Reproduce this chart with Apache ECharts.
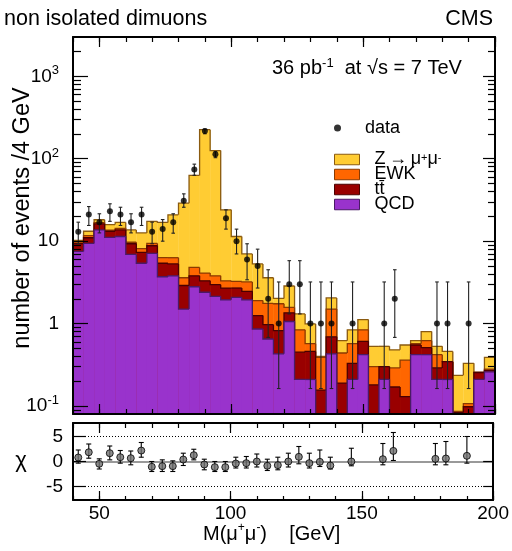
<!DOCTYPE html>
<html><head><meta charset="utf-8">
<script src="https://cdn.jsdelivr.net/npm/echarts@6/dist/echarts.min.js"></script>
<style>html,body{margin:0;padding:0;background:#fff}#c{width:512px;height:551px}</style>
</head><body><div id="c"></div>
<script>
// ---------------- data ----------------
const binLow = [40,44,48,52,56,60,64,68,72,76,80,84,88,92,96,100,104,108,112,116,
                120,124,128,132,136,140,144,148,152,156,160,164,168,172,176,180,184,188,192,196];
const binWidth = 4;
const qcd   = [7.5,9.4,13.7,11.1,11.4,6.9,5.4,7.1,3.7,3.8,1.5,2.8,2.4,2.14,1.94,2.08,1.94,0.86,0.65,0.43,
               1.06,0.21,0.21,0,0.43,0,0.21,0.42,0,0.21,0,0,0.42,0.42,0.21,0.21,0,0,0.21,0.26];
const ttbar = [1.85,1.6,2.5,2.1,2.3,2.4,1.9,1.7,1.7,1.5,1.4,1.0,0.9,0.83,0.76,0.62,0.52,0.39,0.32,0.39,
               0.29,0.24,0.25,0.156,0.26,0.19,0.12,0.19,0.18,0.09,0.17,0.13,0.13,0.09,0.08,0.135,0.083,0.098,0.045,0.01];
const ewk   = [0.45,0.7,0.6,0.4,0.6,0.4,0.8,0.6,0.9,1.0,0.7,1.0,0.8,0.83,0.6,0.55,0.74,0.65,0.79,0.92,
               0.22,0.39,0.11,0.234,0.81,0.25,0.24,0.23,0.12,0,0.12,0.23,0.02,0.11,0.13,0,0.003,0.009,0,0.01];
const zmumu = [0.4,1.5,1.4,2.3,2.6,4.0,4.5,8.0,10.6,14.6,25.3,58,221,122,20.7,8.15,3.8,3.4,1.84,0.28,
               1.29,0.47,0.42,0.01,0.55,0.18,0.27,0.28,0.23,0.23,0.19,0.19,0.05,0.18,0.11,0.115,0.15,0.223,0,0.11];
const dataCounts = [13,21,17,23,21,17,21,13,14,17,31,74,217,113,19,10,6,5,2,1,
                    3,3,1,1,1,0,1,0,0,1,2,0,0,0,1,1,0,1,0,0];
const dataErrLo = [9.3,15.5,12.6,17.4,15.5,12.6,15.5,9.3,10,12.5,25.8,63,201,103,14,7,3.4,2.7,0.68,0.163,
                   1.31,1.31,0.163,0.163,0.163,null,0.163,null,null,0.163,0.68,null,null,null,0.163,0.163,null,0.163,null,null];
const dataErrHi = [17,26.3,21.5,28.4,25.8,21.5,25.8,17,18.3,21.5,37.5,86,229,122,24,14,9.3,8,4.5,3.2,
                   5.8,5.8,3.2,3.2,3.2,null,3.2,null,null,3.2,4.5,null,null,null,3.2,3.2,null,3.2,null,null];
const chiValues = [0.8,1.85,-0.46,1.66,0.86,0.66,2.19,-1.06,-0.93,-0.93,0.4,1.26,-0.6,-1.13,-1.13,-0.4,-0.33,0,-0.86,-0.73,
                   0,0.93,-0.33,-0.07,-0.8,null,0,null,null,0.46,2.12,null,null,null,0.53,0.6,null,1.13,null,null];
const chiErrHi = [2.3,3.5,0.53,3.1,2.2,2.1,3.8,0,0.33,0.13,1.66,2.45,0.46,0,0,0.86,1,1.5,0.46,0.86,
                  1.66,3,1.66,2.3,0.86,null,2.65,null,null,3.6,5.8,null,null,null,3.6,4,null,5,null,null];
const chiErrLo = [-0.33,0.66,-1.5,0.33,-0.33,-0.66,0.86,-2,-2,-2,-0.8,0.33,-1.66,-2,-2,-1.3,-1.3,-1.1,-1.8,-1.66,
                  -1.1,-0.46,-1.3,-1,-1.5,null,-0.86,null,null,-0.66,0.2,null,null,null,-0.66,-0.66,null,-0.33,null,null];
const xTickLabels = [50,100,150,200];
const yTickLabels = [0.1,1,10,100,1000];
const yMinorTicks = [0.09,0.2,0.3,0.4,0.5,0.6,0.7,0.8,0.9,2,3,4,5,6,7,8,9,20,30,40,50,60,70,80,90,
                     200,300,400,500,600,700,800,900,2000];
const chiTicks = [-5,0,5];

// ---------------- chart ----------------
const FONT = 'Liberation Sans, Arial, Helvetica, sans-serif';
const YMIN = 0.08, YMAX = 3000, XMIN = 40, XMAX = 200;
const cumQ = qcd.map(v => v);
const cumT = cumQ.map((v, i) => v + ttbar[i]);
const cumE = cumT.map((v, i) => v + ewk[i]);
const cumZ = cumE.map((v, i) => v + zmumu[i]);

function layer(name, cum, fill, stroke, z) {
  return {
    type: 'custom', name, xAxisIndex: 0, yAxisIndex: 0, clip: true, z,
    itemStyle: { color: fill, borderColor: stroke, borderWidth: 1 },
    data: binLow.map((x0, i) => [x0, x0 + binWidth, Math.max(cum[i], YMIN / 4), i > 0 ? Math.max(cum[i - 1], YMIN / 4) : YMIN / 4]),
    renderItem(params, api) {
      const x0 = api.value(0), x1 = api.value(1), top = api.value(2), prev = api.value(3);
      const p0 = api.coord([x0, top]), p1 = api.coord([x1, top]);
      const b = api.coord([x0, YMIN / 4]), pp = api.coord([x0, prev]);
      const last = params.dataIndex === binLow.length - 1;
      const pts = [[pp[0], pp[1]], [p0[0], p0[1]], [p1[0], p1[1]]];
      if (last) pts.push([p1[0], b[1]]);
      return { type: 'group', children: [
        { type: 'rect', shape: { x: p0[0], y: p0[1], width: p1[0] - p0[0] + 0.3, height: b[1] - p0[1] }, style: { fill } },
        { type: 'polyline', shape: { points: pts }, style: { stroke, lineWidth: 1.3, fill: null } }
      ]};
    }
  };
}

function errBars(xi, yi, lo, hi, cap, color) {
  const d = [];
  binLow.forEach((x0, i) => { if (lo[i] !== null && hi[i] !== null) d.push([x0 + binWidth / 2, lo[i], hi[i]]); });
  return {
    type: 'custom', xAxisIndex: xi, yAxisIndex: yi, clip: true, z: 10, silent: true,
    data: d,
    renderItem(params, api) {
      const x = api.value(0);
      const pl = api.coord([x, api.value(1)]), ph = api.coord([x, api.value(2)]);
      const st = { stroke: color, lineWidth: 1.1 };
      return { type: 'group', children: [
        { type: 'line', shape: { x1: pl[0], y1: pl[1], x2: ph[0], y2: ph[1] }, style: st },
        { type: 'line', shape: { x1: pl[0] - cap, y1: pl[1], x2: pl[0] + cap, y2: pl[1] }, style: st },
        { type: 'line', shape: { x1: ph[0] - cap, y1: ph[1], x2: ph[0] + cap, y2: ph[1] }, style: st }
      ]};
    }
  };
}

function xAx(grid, pos, opts) {
  return Object.assign({
    type: 'value', gridIndex: grid, position: pos, min: XMIN, max: XMAX, interval: 10, z: 20,
    axisLine: { show: false, onZero: false }, splitLine: { show: false },
    axisLabel: { show: false }, axisTick: { show: true, inside: true, length: 5, lineStyle: { color: '#000', width: 1.2 } }
  }, opts);
}
function yLog(pos, opts) {
  return Object.assign({
    type: 'log', gridIndex: 0, position: pos, min: YMIN, max: YMAX, logBase: 10, z: 20,
    axisLine: { show: false, onZero: false }, splitLine: { show: false }, axisLabel: { show: false }
  }, opts);
}

const option = {
  animation: false,
  backgroundColor: '#fff',
  textStyle: { fontFamily: FONT },
  grid: [
    { left: 73, top: 37, width: 422, height: 377, show: false },
    { left: 73, top: 423, width: 422, height: 77, show: false }
  ],
  xAxis: [
    xAx(0, 'bottom', { axisLine: { show: true, onZero: false, lineStyle: { color: '#000', width: 2 } } }),
    xAx(0, 'bottom', { axisTick: { show: true, inside: true, length: 10, customValues: xTickLabels, lineStyle: { color: '#000', width: 1.2 } } }),
    xAx(0, 'top', { axisLine: { show: true, onZero: false, lineStyle: { color: '#000', width: 2 } } }),
    xAx(0, 'top', { axisTick: { show: true, inside: true, length: 10, customValues: xTickLabels, lineStyle: { color: '#000', width: 1.2 } } }),
    xAx(1, 'bottom', { axisLine: { show: true, onZero: false, lineStyle: { color: '#000', width: 2 } },
                       axisTick: { show: true, inside: true, length: 4, lineStyle: { color: '#000', width: 1.2 } } }),
    xAx(1, 'bottom', { axisTick: { show: true, inside: true, length: 9, customValues: xTickLabels, lineStyle: { color: '#000', width: 1.2 } },
                       axisLabel: { show: true, customValues: xTickLabels, margin: 4, fontSize: 19, color: '#000', fontFamily: FONT } }),
    xAx(1, 'top', { axisLine: { show: true, onZero: false, lineStyle: { color: '#000', width: 2 } } }),
    xAx(1, 'top', { axisTick: { show: true, inside: true, length: 10, customValues: xTickLabels, lineStyle: { color: '#000', width: 1.2 } } })
  ],
  yAxis: [
    yLog('left', {
      axisLine: { show: true, onZero: false, lineStyle: { color: '#000', width: 2 } },
      axisTick: { show: true, inside: true, length: 15, customValues: yTickLabels, lineStyle: { color: '#000', width: 1.2 } },
      axisLabel: { show: true, customValues: yTickLabels, margin: 14, fontSize: 19, color: '#000', fontFamily: FONT,
        formatter: v => { const e = Math.round(Math.log10(v)); if (e === 0) return '1'; if (e === 1) return '10'; return '10{sup|' + e + '}'; },
        rich: { sup: { fontSize: 13, verticalAlign: 'top', fontFamily: FONT, color: '#000', lineHeight: 24 } } }
    }),
    yLog('left', { axisTick: { show: true, inside: true, length: 8, customValues: yMinorTicks, lineStyle: { color: '#000', width: 1.2 } } }),
    yLog('right', {
      axisLine: { show: true, onZero: false, lineStyle: { color: '#000', width: 2 } },
      axisTick: { show: true, inside: true, length: 12, customValues: yTickLabels, lineStyle: { color: '#000', width: 1.2 } }
    }),
    yLog('right', { axisTick: { show: true, inside: true, length: 7, customValues: yMinorTicks, lineStyle: { color: '#000', width: 1.2 } } }),
    { type: 'value', gridIndex: 1, position: 'left', min: -7.7, max: 7.7, z: 20,
      axisLine: { show: true, onZero: false, lineStyle: { color: '#000', width: 2 } }, splitLine: { show: false },
      axisTick: { show: true, inside: true, length: 13, customValues: chiTicks, lineStyle: { color: '#000', width: 1.2 } },
      axisLabel: { show: true, customValues: chiTicks, margin: 10, fontSize: 19, color: '#000', fontFamily: FONT } },
    { type: 'value', gridIndex: 1, position: 'right', min: -7.7, max: 7.7, z: 20,
      axisLine: { show: true, onZero: false, lineStyle: { color: '#000', width: 2 } }, splitLine: { show: false },
      axisTick: { show: true, inside: true, length: 10, customValues: chiTicks, lineStyle: { color: '#000', width: 1.2 } },
      axisLabel: { show: false } }
  ],
  legend: [
    { data: [{ name: 'data', icon: 'circle' }], left: 329, top: 114, itemWidth: 25, itemHeight: 7, selectedMode: false,
      textStyle: { fontSize: 18, color: '#000', fontFamily: FONT, padding: [0, 0, 0, 10] } },
    { data: ['Z', 'EWK', 'tt̄', 'QCD'].map(n => ({ name: n, icon: 'rect' })), orient: 'vertical', left: 329, top: 145.5,
      itemWidth: 25, itemHeight: 10.5, itemGap: -3, selectedMode: false,
      itemStyle: { borderWidth: 1 },
      formatter: n => n === 'Z' ? 'Z\u2009→\u2009μ{sup|+}μ{sup|-}' : n,
      textStyle: { fontSize: 18, color: '#000', fontFamily: FONT, lineHeight: 15, padding: [0, 0, 0, 10],
        rich: { sup: { fontSize: 11, verticalAlign: 'top', lineHeight: 15, fontFamily: FONT, color: '#000' } } } }
  ],
  graphic: [
    { type: 'text', left: 4, top: 8, style: { text: 'non isolated dimuons', font: '21.5px ' + FONT, fill: '#000' } },
    { type: 'text', right: 19, top: 8, style: { text: 'CMS', font: '21.5px ' + FONT, fill: '#000' } },
    { type: 'text', left: 272, top: 57, style: { text: '36 pb{sup|-1}  at √s = 7 TeV', font: '20px ' + FONT, fill: '#000', lineHeight: 22,
        rich: { sup: { fontSize: 13, verticalAlign: 'top', lineHeight: 22, fontFamily: FONT } } } },
    { type: 'text', x: 23, y: 218, rotation: Math.PI / 2,
      style: { text: 'number of events /4 GeV', font: '23.5px ' + FONT, fill: '#000', align: 'center', verticalAlign: 'middle' } },
    { type: 'text', x: 21, y: 461, style: { text: 'χ', font: '22px ' + FONT, fill: '#000', align: 'center', verticalAlign: 'middle' } },
    { type: 'text', left: 203, top: 522, style: { text: 'M(μ{sup|+}μ{sup|-})    [GeV]', font: '20px ' + FONT, fill: '#000', lineHeight: 24,
        rich: { sup: { fontSize: 12, verticalAlign: 'top', lineHeight: 24, fontFamily: FONT } } } }
  ],
  series: [
    layer('Z', cumZ, '#FFCC33', '#8a5a10', 2),
    layer('EWK', cumE, '#FF6600', '#8a3a00', 3),
    layer('tt̄', cumT, '#990000', '#4a0000', 4),
    layer('QCD', cumQ, '#9933CC', '#4a1a66', 5),
    errBars(0, 0, dataErrLo, dataErrHi, 1.8, '#222'),
    { type: 'scatter', name: 'data', xAxisIndex: 0, yAxisIndex: 0, z: 11, symbolSize: 6,
      itemStyle: { color: '#000' },
      data: binLow.map((x0, i) => [x0 + binWidth / 2, dataCounts[i]]).filter(p => p[1] > 0) },
    errBars(4, 4, chiErrLo, chiErrHi, 2.5, '#000'),
    { type: 'scatter', name: 'chi', xAxisIndex: 4, yAxisIndex: 4, z: 11, symbolSize: 7,
      itemStyle: { color: '#6f6f6f', borderColor: '#000', borderWidth: 1 },
      data: binLow.map((x0, i) => [x0 + binWidth / 2, chiValues[i]]).filter(p => p[1] !== null),
      markLine: { silent: true, symbol: 'none', label: { show: false }, z: 1,
        data: [
          { yAxis: 5, lineStyle: { color: '#000', type: [1, 2], width: 1 } },
          { yAxis: 0, lineStyle: { color: '#777', type: 'solid', width: 1.5 } },
          { yAxis: -5, lineStyle: { color: '#000', type: [1, 2], width: 1 } }
        ] } }
  ]
};
const chart = echarts.init(document.getElementById('c'), null, { renderer: 'canvas' });
chart.setOption(option);
</script></body></html>
